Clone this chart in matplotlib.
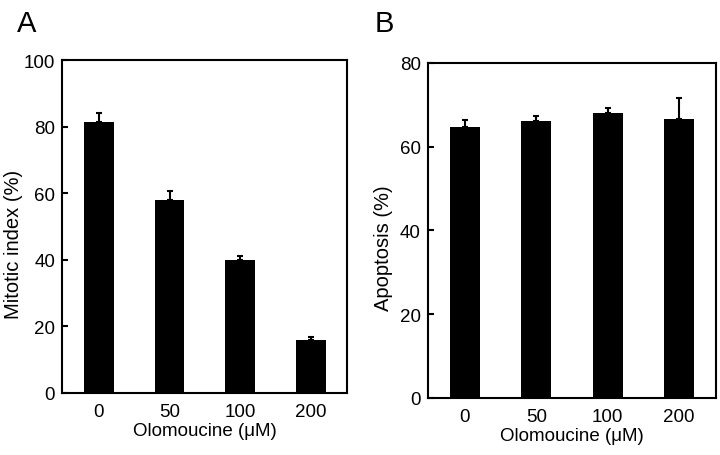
import matplotlib
matplotlib.use("Agg")
import matplotlib.pyplot as plt

plt.rcParams["font.family"] = ["Liberation Sans", "DejaVu Sans"]

doses = ["0", "50", "100", "200"]
mitotic = [81.5, 58.0, 40.0, 15.8]
mitotic_err = [2.6, 2.7, 1.2, 0.9]
apoptosis = [64.7, 66.1, 68.1, 66.6]
apoptosis_err = [1.7, 1.2, 1.2, 5.0]

fig = plt.figure(figsize=(7.2, 4.56), dpi=100)
ax_a = fig.add_axes([0.0861, 0.136, 0.396, 0.730])
ax_b = fig.add_axes([0.594, 0.125, 0.400, 0.735])


def panel(ax, vals, errs, ymax, ylabel, ylab_x):
    x = list(range(len(doses)))
    ax.bar(x, vals, width=0.42, color="black")
    # only the upper half of the error bar is visible
    ax.errorbar(x, vals, yerr=[[0] * len(errs), errs], fmt="none",
                ecolor="black", elinewidth=1.5, capsize=2.5, capthick=1.5)
    ax.set_xlim(-0.52, 3.51)
    ax.set_ylim(0, ymax)
    ax.set_yticks(range(0, ymax + 1, 20))
    ax.set_xticks(x)
    ax.set_xticklabels(doses)
    ax.tick_params(axis="y", direction="in", length=4, width=1.5,
                   labelsize=13.5, pad=5)
    ax.tick_params(axis="x", length=0, labelsize=13.5, pad=7)
    for s in ax.spines.values():
        s.set_linewidth(1.5)
    ax.set_xlabel("Olomoucine (\u03bcM)", fontsize=13.5, labelpad=2)
    ax.set_ylabel(ylabel, fontsize=14.5)
    ax.yaxis.set_label_coords(ylab_x, 0.45)


panel(ax_a, mitotic, mitotic_err, 100, "Mitotic index (%)", -0.137)
panel(ax_b, apoptosis, apoptosis_err, 80, "Apoptosis (%)", -0.122)

fig.text(0.023, 0.93, "A", fontsize=21)
fig.text(0.521, 0.93, "B", fontsize=21)

fig.savefig("out.png", dpi=100)
